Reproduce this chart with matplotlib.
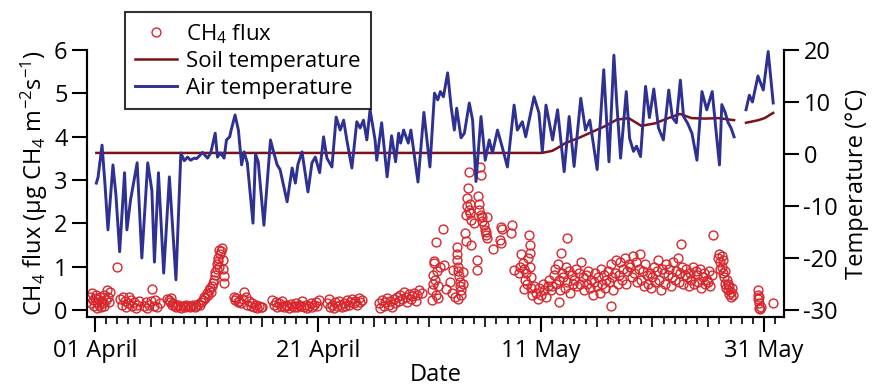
import numpy as np
import matplotlib
matplotlib.use("Agg")
import matplotlib.pyplot as plt
from matplotlib.ticker import FixedLocator, NullFormatter

plt.rcParams['font.family'] = ['Open Sans', 'DejaVu Sans']
plt.rcParams['mathtext.fontset'] = 'custom'
plt.rcParams['mathtext.rm'] = 'Open Sans'
plt.rcParams['mathtext.it'] = 'Open Sans:italic'
plt.rcParams['axes.unicode_minus'] = False

# days since 01 April
air_day = [0.12, 0.27, 0.63, 0.9, 1.16, 1.61, 1.88, 2.21, 2.65, 2.86, 3.19, 3.78, 4.2, 4.73, 5.1,
           5.33, 5.69, 6.16, 6.67, 7.26, 7.7, 8.0, 8.3, 8.57, 8.9, 9.1, 9.35, 9.64, 10.09, 10.38,
           10.78, 10.98, 11.25, 11.58, 11.79, 12.08, 12.2, 12.56, 12.86, 13.15, 13.37, 13.66, 14.17,
           14.4, 14.64, 15.15, 15.74, 16.04, 16.34, 16.6, 17.23, 17.68, 17.97, 18.2, 18.57, 19.1,
           19.46, 19.76, 20.15, 20.5, 20.8, 21.25, 21.63, 21.99, 22.3, 22.6, 23.04, 23.48, 23.78,
           24.08, 24.38, 24.67, 25.12, 25.27, 25.71, 26.2, 26.6, 26.96, 27.23, 27.41, 27.68, 28.1,
           28.33, 28.97, 29.5, 30.04, 30.45, 30.74, 30.98, 31.25, 31.63, 31.94, 32.23, 32.44, 32.83,
           33.13, 33.57, 33.87, 34.17, 34.62, 35.0, 35.36, 35.65, 36.1, 36.54, 36.99, 37.59, 37.88,
           38.33, 38.63, 39.38, 39.82, 40.12, 40.45, 41.04, 41.49, 42.08, 42.53, 42.97, 43.57, 43.99,
           44.38, 45.04, 45.63, 46.1, 46.54, 46.79, 47.14, 47.65, 47.95, 48.3, 48.57, 48.93, 49.38,
           49.73, 50.12, 50.54, 50.98, 51.46, 51.79, 52.14, 52.5, 52.79, 53.13, 53.54, 53.99, 54.44,
           54.87, 55.36, 55.63, 56.01, 56.22, 56.52, 56.79, 57.05, 57.32, np.nan,
           58.39, 58.69, 58.97, 59.46, 59.94, 60.38, 60.83]
air_temp = [-5.6, -4.5, 1.7, -6, -14.6, -2.1, -8, -18.8, -3.6, -14.6, -8.8, -1.7, -20, -1.7, -7,
            -20.8, -3.6, -22.9, -4.4, -24.2, 0.2, -1.3, -0.6, -1.2, -0.8, -0.9, -0.4, 0.3, -0.8, 0.2,
            4.0, -0.6, 0.2, -0.8, 2.7, 3.3, 4.5, 7.5, 4.6, -2.1, 0.4, -1.7, -13.3,
            0.0, -1.5, -13.7, 2.7, 0.2, -2.1, -3.0, -9.2, -2.7, -5.6, -2.0, 0.4, -7.3,
            -1.7, -0.6, -3.6, 3.3, -0.8, -2.5, 7.1, 4.6, 6.5, 2.5, -2.7, 6.2, 5.0,
            6.5, 2.7, 8.5, 2.7, -1.2, 6.0, -4.4, 3.5, -1.5, 4.0, 2.1, 4.6, 2.1,
            4.6, -5.4, 8.0, -2.5, 11.7, 10.4, 12.0, 11.0, 15.6, 9.1, 4.6, 8.8, 3.1,
            4.0, 9.8, 6.5, -5.3, 7.2, -1.2, 2.7, 0.2, 4.6, 1.2, -2.5, 9.4, 4.6,
            6.2, 3.3, 11.0, 7.9, 0.4, 9.4, 2.7, 8.5, -3.4, 7.2, -2.4, 10.7, 4.6,
            6.5, -3.0, 16.2, -1.5, 19.0, 10.0, -0.8, 12.0, 3.0, 0.5, 1.5, -0.5, 13.0,
            7.0, 12.5, 5.0, 2.7, 12.3, 7.0, 6.0, 14.2, 7.2, 6.0, 4.0, -1.2, 12.0,
            8.5, 12.0, 6.0, -2.1, 9.5, 8.0, 6.0, 5.0, 3.3, np.nan,
            8.5, 11.3, 10.0, 15.0, 12.3, 19.7, 9.8]

soil_day = [0.12, 40.1, 41.0, 41.6, 42.2, 43.4, 44.55, 45.8, 46.8, 47.86, 49.0, 50.24, 51.43,
            52.47, 53.5, 54.7, 55.9, 57.32, np.nan, 58.39, 59.5, 60.06, 60.83]
soil_temp = [0.2, 0.2, 0.6, 1.3, 2.1, 3.1, 4.2, 5.4, 6.6, 6.9, 5.4, 5.9, 6.9,
             7.7, 6.9, 6.8, 6.9, 6.5, np.nan, 6.0, 6.5, 6.9, 7.9]

flux_day = [
    -0.45, -0.35, -0.3, -0.2, -0.1, 0.0, 0.05, 0.15, 0.2, 0.3, 0.4, 0.45, 0.55, 0.6, 0.7, 0.8,
    0.85, 0.95, 1.05, 1.15, 1.25, 1.35, 2.0,
    2.25, 2.4, 2.5, 2.65, 2.8, 2.95, 3.05, 3.2, 3.35, 3.5, 3.65, 3.8, 3.95,
    4.4, 4.55, 4.7, 4.85, 5.0, 5.1, 5.25, 5.4, 5.6, 5.8,
    6.5, 6.6, 6.7, 6.8, 6.9, 7.0, 7.15, 7.3, 7.45, 7.6, 7.75, 7.9, 8.05, 8.2, 8.35, 8.5, 8.65,
    8.8, 8.95, 9.1, 9.25, 9.4, 9.55,
    9.7, 9.8, 9.9, 10.0, 10.1, 10.2, 10.3, 10.4, 10.5, 10.6, 10.7, 10.75, 10.8, 10.9, 10.95,
    11.0, 11.05, 11.1, 11.15, 11.2, 11.3, 11.4, 11.45, 11.5, 11.55, 11.6,
    12.45, 12.55, 12.65, 12.8, 12.95, 13.1, 13.25, 13.35, 13.5, 13.65, 13.8, 13.95, 14.1, 14.25,
    14.4, 14.55, 14.7, 14.85, 15.0,
    15.9, 16.05, 16.2, 16.35, 16.5, 16.65, 16.8, 16.95, 17.1, 17.25, 17.4, 17.55, 17.7, 17.85,
    18.0, 18.15, 18.3, 18.45, 18.6, 18.75, 18.9, 19.05, 19.2, 19.35, 19.5, 19.65, 19.8, 19.95, 20.1,
    20.8, 20.95, 21.1, 21.25, 21.4, 21.55, 21.7, 21.85, 22.0, 22.15, 22.3, 22.45, 22.6, 22.75,
    22.9, 23.05, 23.2, 23.35, 23.5, 23.65, 23.8, 23.95,
    25.45, 25.6, 25.75, 25.9, 26.05, 26.2, 26.35, 26.5, 26.65, 26.8, 26.95, 27.1, 27.25, 27.4,
    27.55, 27.7, 27.85, 28.0, 28.15, 28.3, 28.45, 28.6, 28.75, 28.9, 29.05, 29.3,
    30.2, 30.25, 30.3, 30.35, 30.4, 30.45, 30.5, 30.55, 30.6, 30.65, 30.75, 30.8, 30.9,
    31.25, 31.3, 31.5, 31.8, 32.0, 32.15, 32.3,
    32.45, 32.5, 32.5, 32.55, 32.6, 32.65, 32.7, 32.75, 32.8, 32.85, 32.6, 33.0, 33.05,
    33.2, 33.25, 33.3, 33.35, 33.4, 33.45, 33.5, 33.55, 33.6, 33.65, 33.7, 33.75, 34.0,
    34.25, 34.25, 34.35, 34.4, 34.45, 34.55, 34.6, 34.65, 34.7, 34.75, 34.85, 34.95, 35.05,
    35.15, 35.1, 35.2,
    35.7, 36.35, 36.4, 36.5, 36.45, 37.3, 37.4, 37.6,
    38.05, 38.15, 38.25, 38.35, 38.45, 38.55, 38.65, 38.75, 38.85, 38.95, 39.0, 39.0, 39.05,
    39.1, 39.15, 39.2, 38.5,
    39.4, 39.55, 39.7, 39.85, 40.0, 40.15, 40.3, 40.45, 40.6, 40.75, 40.9,
    41.0, 41.125, 41.25, 41.375, 41.5, 41.625, 41.75, 41.875,
    42.0, 42.125, 42.25, 42.375, 42.5, 42.625, 42.75, 42.875, 41.6, 41.8, 42.3,
    43.0, 43.125, 43.25, 43.375, 43.5, 43.625, 43.75, 43.875,
    44.0, 44.125, 44.25, 44.375, 44.5, 44.625, 44.75, 44.875,
    45.0, 45.125, 45.25, 45.375, 45.5, 45.625, 45.75, 45.875,
    46.0, 46.125, 46.25, 46.375, 46.5, 46.625, 46.75, 46.875, 46.3,
    47.0, 47.125, 47.25, 47.375, 47.5, 47.625, 47.75, 47.875,
    48.0, 48.125, 48.25, 48.375, 48.5, 48.625, 48.75, 48.875,
    49.0, 49.125, 49.25, 49.375, 49.5, 49.625, 49.75, 49.875,
    50.0, 50.125, 50.25, 50.375, 50.5, 50.625, 50.75, 50.875,
    51.0, 51.125, 51.25, 51.375, 51.5, 51.625, 51.75, 51.875,
    52.0, 52.125, 52.25, 52.375, 52.5, 52.625, 52.75, 52.875, 52.55,
    53.0, 53.125, 53.25, 53.375, 53.5, 53.625, 53.75, 53.875,
    54.0, 54.125, 54.25, 54.375, 54.5, 54.625, 54.75, 54.875,
    55.0, 55.1, 55.2, 55.3, 55.4,
    55.9, 56.0, 56.05, 56.1, 56.2, 56.25, 56.3, 56.35, 56.4, 56.5, 56.55, 56.6, 56.7, 56.75,
    56.8, 56.85, 56.9, 57.0, 57.05, 57.1, 57.2,
    59.45, 59.5, 59.5, 59.55, 59.6, 59.65, 59.7, 59.6, 60.8]
flux_val = [
    0.3, 0.15, 0.4, 0.22, 0.1, 0.28, 0.35, 0.05, 0.18, 0.25, 0.12, 0.3, 0.08, 0.2, 0.15, 0.35,
    0.1, 0.22, 0.45, 0.3, 0.18, 0.42, 1.0,
    0.25, 0.12, 0.3, 0.2, 0.08, 0.15, 0.31, 0.22, 0.1, 0.18, 0.05, 0.12, 0.2,
    0.1, 0.18, 0.05, 0.12, 0.2, 0.48, 0.1, 0.22, 0.08, 0.15,
    0.25, 0.22, 0.18, 0.28, 0.12, 0.15, 0.1, 0.08, 0.12, 0.1, 0.05, 0.1, 0.08, 0.12, 0.1, 0.06, 0.1,
    0.12, 0.08, 0.1, 0.14, 0.12, 0.18,
    0.22, 0.3, 0.28, 0.4, 0.35, 0.45, 0.5, 0.42, 0.55, 0.62, 0.7, 0.8, 0.88, 0.95, 1.05,
    1.12, 1.2, 1.38, 1.0, 1.3, 1.36, 1.42, 1.15, 0.95, 0.62, 0.78,
    0.3, 0.22, 0.28, 0.18, 0.2, 0.15, 0.25, 0.42, 0.3, 0.12, 0.2, 0.1, 0.15, 0.08,
    0.12, 0.05, 0.1, 0.06, 0.08,
    0.22, 0.12, 0.18, 0.08, 0.15, 0.1, 0.2, 0.06, 0.12, 0.1, 0.05, 0.14, 0.1, 0.08,
    0.15, 0.06, 0.12, 0.1, 0.2, 0.08, 0.12, 0.05, 0.1, 0.15, 0.08, 0.12, 0.18, 0.1, 0.22,
    0.15, 0.25, 0.08, 0.12, 0.05, 0.18, 0.1, 0.2, 0.12, 0.08, 0.15, 0.1, 0.22, 0.12,
    0.18, 0.25, 0.15, 0.2, 0.12, 0.28, 0.18, 0.22,
    0.15, 0.05, 0.22, 0.1, 0.18, 0.28, 0.12, 0.2, 0.08, 0.25, 0.15, 0.3, 0.2, 0.35,
    0.25, 0.42, 0.3, 0.18, 0.38, 0.25, 0.32, 0.4, 0.2, 0.35, 0.45, 0.39,
    0.23, 0.45, 0.6, 0.8, 1.12, 1.08, 0.7, 1.58, 0.35, 0.9, 0.28, 0.55, 1.0,
    1.87, 1.04, 0.48, 0.65, 0.4, 0.92, 0.3,
    1.46, 1.3, 1.15, 1.0, 0.9, 0.78, 0.65, 0.55, 0.45, 0.35, 0.25, 0.6, 0.88,
    1.77, 1.6, 2.2, 2.4, 2.58, 2.81, 3.19, 2.3, 2.45, 2.24, 1.5, 2.08, 2.0,
    1.15, 0.92, 2.62, 2.45, 2.3, 3.31, 3.12, 2.2, 2.05, 2.15, 1.95, 1.85, 1.8,
    2.15, 1.72, 1.65,
    1.4, 1.62, 1.92, 1.88, 1.55, 1.77, 1.95, 0.92,
    0.85, 1.0, 1.3, 1.08, 0.95, 0.7, 0.85, 0.6, 1.2, 1.73, 1.5, 1.32, 1.0,
    0.75, 0.5, 0.35, 0.48,
    0.55, 0.4, 0.25, 0.5, 0.35, 0.6, 0.45, 0.3, 0.55, 0.7, 0.45,
    0.55, 0.8, 0.95, 0.6, 1.05, 0.7, 0.45, 0.85,
    0.75, 0.5, 1.0, 0.65, 0.9, 0.4, 0.8, 0.6, 0.19, 1.31, 1.65,
    0.7, 0.95, 0.55, 0.85, 0.6, 1.1, 0.75, 0.45,
    0.8, 0.6, 0.9, 0.5, 0.7, 0.35, 0.65, 0.85,
    0.55, 0.75, 0.4, 0.95, 0.6, 0.8, 0.5, 0.7,
    0.9, 0.65, 1.05, 0.75, 0.45, 0.85, 1.15, 0.6, 0.09,
    0.8, 1.1, 0.7, 0.95, 1.2, 0.6, 0.9, 1.05,
    1.0, 0.75, 1.25, 0.85, 1.1, 0.65, 0.95, 1.3,
    0.7, 0.9, 0.55, 1.05, 0.8, 0.6, 0.85, 0.5,
    0.75, 1.0, 0.65, 0.9, 1.15, 0.7, 0.45, 0.95,
    0.85, 0.6, 1.05, 0.8, 0.95, 0.55, 0.75, 1.1,
    0.7, 0.9, 1.2, 0.65, 0.85, 1.0, 0.6, 0.8, 1.52,
    0.95, 0.75, 0.55, 0.85, 0.7, 1.0, 0.6, 0.9,
    0.8, 0.65, 0.95, 0.5, 0.75, 0.85, 0.6, 0.7,
    0.65, 0.9, 0.55, 0.8, 1.73,
    1.2, 1.3, 1.1, 0.95, 1.25, 1.0, 0.85, 1.15, 0.75, 0.6, 0.9, 0.5, 0.7, 0.45,
    0.6, 0.38, 0.55, 0.42, 0.3, 0.5, 0.35,
    0.45, 0.35, 0.25, 0.15, 0.05, 0.02, 0.08, 0.3, 0.16]

major_days = [0, 20, 40, 60]
major_labels = ['01 April', '21 April', '11 May', '31 May']

red = '#d9262c'
soil_col = '#7d1214'
air_col = '#2e3192'

fig = plt.figure(figsize=(8.76, 3.91), dpi=100)
ax = fig.add_axes([0.0993, 0.1893, 0.7957, 0.6829])
ax2 = ax.twinx()

sc, = ax.plot(flux_day, flux_val, 'o', mfc='none', mec=red, ms=6.4, mew=1.0,
              label='CH$_4$ flux')
soil, = ax2.plot(soil_day, soil_temp, color=soil_col, lw=1.8, label='Soil temperature')
air, = ax2.plot(air_day, air_temp, color=air_col, lw=2.1, solid_joinstyle='round',
                label='Air temperature')

ax.set_xlim(-0.72, 61.8)
ax.set_ylim(-0.1615, 6.0)
ax2.set_ylim(-31.346, 20)

ax.set_yticks(range(0, 7))
ax2.set_yticks(range(-30, 21, 10))
ax.xaxis.set_major_locator(FixedLocator(major_days))
ax.set_xticklabels(major_labels)
ax.xaxis.set_minor_locator(FixedLocator(list(range(0, 62))))
ax.xaxis.set_minor_formatter(NullFormatter())

for a in (ax, ax2):
    a.spines['top'].set_visible(False)
    for s in ('left', 'right', 'bottom'):
        a.spines[s].set_linewidth(1.5)

fs = 17
ax.tick_params(axis='x', which='major', length=11, width=1.5, pad=5, labelsize=fs)
ax.tick_params(axis='x', which='minor', length=5, width=1.2)
ax.tick_params(axis='y', length=11, width=1.5, pad=3, labelsize=fs)
ax2.tick_params(axis='y', length=11, width=1.5, pad=3, labelsize=fs)

# every fifth day gets a mid-length tick
minor_locs = ax.xaxis.get_minorticklocs()
for t, loc in zip(ax.xaxis.get_minor_ticks(len(minor_locs)), minor_locs):
    if round(loc) % 5 == 0:
        t.tick1line.set_markersize(7.5)

ax.set_xlabel('Date', fontsize=fs, labelpad=0)
ax.set_ylabel('CH$_4$ flux (µg CH$_4$ m$^{-2}$s$^{-1}$)', fontsize=fs, labelpad=3)
ax2.set_ylabel('Temperature (°C)', fontsize=fs, labelpad=5)

leg = ax2.legend(handles=[sc, soil, air], loc='upper left',
                 bbox_to_anchor=(0.1427, 0.969), bbox_transform=fig.transFigure,
                 fontsize=16, frameon=True, fancybox=False, edgecolor='black',
                 borderaxespad=0, borderpad=0.45, labelspacing=0.25,
                 handlelength=1.9, handletextpad=0.4)
leg.get_frame().set_linewidth(1.5)

fig.savefig('out.png', dpi=100)
